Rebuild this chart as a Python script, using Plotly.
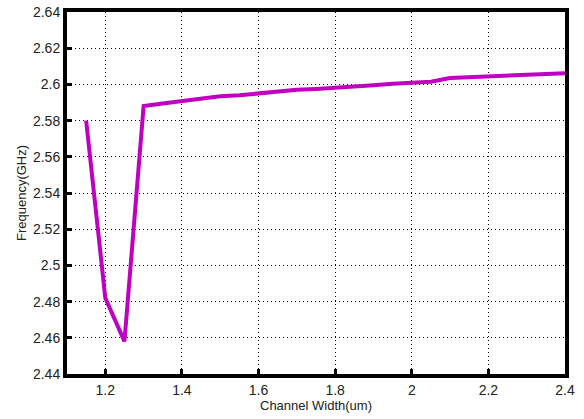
import plotly.graph_objects as go

channel_width = [1.15, 1.2, 1.25, 1.3, 1.35, 1.4, 1.45, 1.5, 1.55, 1.6, 1.65, 1.7, 1.75,
                 1.8, 1.85, 1.9, 1.95, 2.0, 2.05, 2.1, 2.15, 2.2, 2.25, 2.3, 2.35, 2.4]
frequency = [2.580, 2.482, 2.458, 2.588, 2.5895, 2.591, 2.592, 2.5935, 2.594, 2.595,
             2.5965, 2.597, 2.5975, 2.598, 2.5988, 2.5995, 2.6003, 2.601, 2.6015, 2.6035,
             2.604, 2.6045, 2.6049, 2.6053, 2.6057, 2.6062]

x_ticks = [1.2, 1.4, 1.6, 1.8, 2.0, 2.2, 2.4]
x_ticklabels = ["1.2", "1.4", "1.6", "1.8", "2", "2.2", "2.4"]
y_ticks = [2.44, 2.46, 2.48, 2.50, 2.52, 2.54, 2.56, 2.58, 2.60, 2.62, 2.64]
y_ticklabels = ["2.44", "2.46", "2.48", "2.5", "2.52", "2.54", "2.56", "2.58", "2.6", "2.62", "2.64"]

font_family = "Liberation Sans, Arial, sans-serif"

fig = go.Figure()
fig.add_trace(go.Scatter(x=channel_width, y=frequency, mode="lines",
                         line=dict(color="#C000C0", width=4), showlegend=False))

axis_common = dict(
    showline=True, linecolor="black", linewidth=4, mirror=True,
    showgrid=True, gridcolor="black", gridwidth=1, griddash="1px,3px",
    ticks="inside", ticklen=5, tickwidth=3, tickcolor="black",
    zeroline=False, automargin=False, ticklabeloverflow="allow",
    tickfont=dict(family=font_family, size=14, color="#222"),
)

fig.update_xaxes(range=[1.1, 2.4], tickvals=x_ticks, ticktext=x_ticklabels,
                 title=dict(text="Channel Width(um)", standoff=0,
                            font=dict(family=font_family, size=13, color="#222")),
                 **axis_common)
fig.update_yaxes(range=[2.44, 2.64], tickvals=y_ticks, ticktext=y_ticklabels,
                 title=dict(text="Frequency(GHz)", standoff=4,
                            font=dict(family=font_family, size=13, color="#222")),
                 **axis_common)

fig.update_layout(
    width=584, height=419,
    margin=dict(l=67, r=19, t=12, b=45),
    paper_bgcolor="white", plot_bgcolor="white",
    hovermode=False,
)

fig.write_html("out.html",
               config={"displayModeBar": False, "staticPlot": True},
               post_script="document.body.style.margin='0';document.body.style.overflow='hidden';")
